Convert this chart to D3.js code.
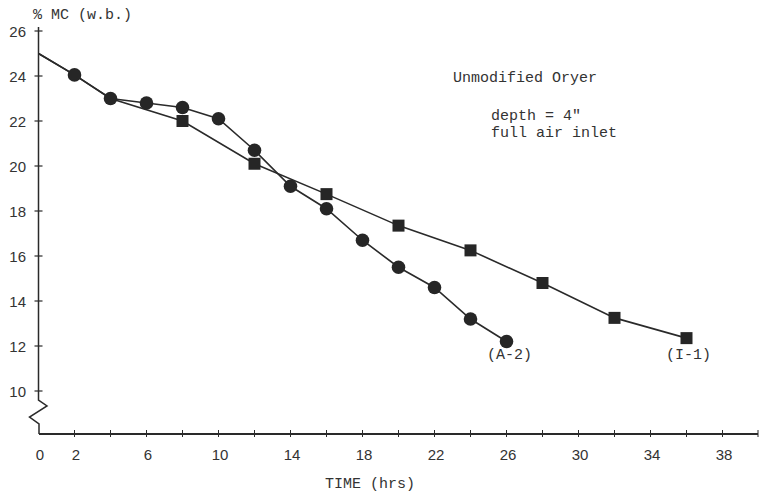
<!DOCTYPE html>
<html>
<head>
<meta charset="utf-8">
<script src="https://cdn.jsdelivr.net/npm/d3@7/dist/d3.min.js"></script>
<style>
  html, body { margin: 0; padding: 0; background: #ffffff; }
  svg { display: block; }
</style>
</head>
<body>
<div id="chart"></div>
<script>
// ---- data ----
const timeA = [0, 2, 4, 6, 8, 10, 12, 14, 16, 18, 20, 22, 24, 26];
const mcA   = [25, 24.05, 23.0, 22.8, 22.6, 22.1, 20.7, 19.1, 18.1, 16.7, 15.5, 14.6, 13.2, 12.2];
const timeI = [0, 2, 4, 8, 12, 16, 20, 24, 28, 32, 36];
const mcI   = [25, 24.05, 23.0, 22.0, 20.1, 18.75, 17.35, 16.25, 14.8, 13.25, 12.35];
const xTickLabels = [0, 2, 6, 10, 14, 18, 22, 26, 30, 34, 38];
const xMinorTicks = [2, 4, 6, 8, 10, 12, 14, 16, 18, 20, 22, 24, 26, 28, 30, 32, 34, 36, 38];
const yTickLabels = [10, 12, 14, 16, 18, 20, 22, 24, 26];
const seriesNames = ["(A-2)", "(I-1)"];
const noteLines = ["Unmodified Oryer", "depth = 4\"", "full air inlet"];

const W = 761, H = 492;
const ink = "#2a2a2a";
const mono = "'Liberation Mono', 'Courier New', monospace";
const sans = "'Liberation Sans', Arial, sans-serif";

const svg = d3.select("#chart").append("svg").attr("width", W).attr("height", H);
svg.append("rect").attr("width", W).attr("height", H).attr("fill", "#fff");

const x = d3.scaleLinear().domain([0, 38]).range([38.5, 722.5]);
const y = d3.scaleLinear().domain([10, 26]).range([391, 31]);
const axisY = 434;
const x0 = x(0);

// ---- axes ----
const ax = svg.append("g").attr("stroke", ink).attr("fill", "none").attr("stroke-width", 1.5);
// vertical axis with break
ax.append("path").attr("d", d3.line()([
  [x0, 27], [x0, 400], [x0 + 8.5, 406], [x0 - 9, 417], [x0 + 0.5, 424], [x0 + 0.5, axisY]
])).attr("stroke-linejoin", "miter");
// horizontal axis
ax.append("line").attr("x1", x0 + 0.5).attr("x2", 758).attr("y1", axisY).attr("y2", axisY).attr("stroke-width", 2);
ax.append("line").attr("x1", 758).attr("x2", 758).attr("y1", axisY - 4).attr("y2", axisY + 3).attr("stroke-width", 1);

// y ticks (crossing)
ax.selectAll(".yt").data(yTickLabels).join("line")
  .attr("x1", x0 - 4).attr("x2", x0 + 4)
  .attr("y1", d => y(d)).attr("y2", d => y(d)).attr("stroke-width", 1.2);
// x minor ticks (crossing)
ax.selectAll(".xt").data(xMinorTicks).join("line")
  .attr("x1", d => x(d)).attr("x2", d => x(d))
  .attr("y1", axisY - 4).attr("y2", axisY + 3).attr("stroke-width", 1);

// y tick labels via d3 axis (no tick lines)
const yAxis = d3.axisLeft(y).tickValues(yTickLabels).tickSize(0).tickPadding(0);
const gy = svg.append("g").attr("transform", "translate(26,0)").call(yAxis);
gy.select(".domain").remove();
gy.selectAll("text").attr("font-family", sans).attr("font-size", 15).attr("fill", "#333").attr("dy", "0.35em");

// x tick labels via d3 axis
const xAxis = d3.axisBottom(x).tickValues(xTickLabels).tickSize(0).tickPadding(0);
const gx = svg.append("g").attr("transform", "translate(1,449)").call(xAxis);
gx.select(".domain").remove();
gx.selectAll("text").attr("font-family", sans).attr("font-size", 15).attr("fill", "#333");

// axis titles
svg.append("text").attr("x", 33).attr("y", 19).attr("font-family", mono).attr("font-size", 15)
  .attr("fill", "#333").text("% MC (w.b.)");
svg.append("text").attr("x", 370).attr("y", 488).attr("text-anchor", "middle")
  .attr("font-family", mono).attr("font-size", 15).attr("fill", "#333").text("TIME (hrs)");

// ---- lines ----
const line = d3.line().x(d => x(d[0])).y(d => y(d[1]));
const dataA = timeA.map((t, i) => [t, mcA[i]]);
const dataI = timeI.map((t, i) => [t, mcI[i]]);

svg.append("path").datum(dataI).attr("d", line).attr("fill", "none").attr("stroke", ink).attr("stroke-width", 1.6);
svg.append("path").datum(dataA).attr("d", line).attr("fill", "none").attr("stroke", ink).attr("stroke-width", 1.6);

// squares (I-1), from t >= 8
const sq = 12;
svg.selectAll(".sq").data(dataI.filter(d => d[0] >= 8)).join("rect")
  .attr("x", d => x(d[0]) - sq / 2).attr("y", d => y(d[1]) - sq / 2)
  .attr("width", sq).attr("height", sq).attr("fill", "#262626");

// circles (A-2), from t >= 2
svg.selectAll(".ci").data(dataA.filter(d => d[0] >= 2)).join("circle")
  .attr("cx", d => x(d[0])).attr("cy", d => y(d[1])).attr("r", 6.8).attr("fill", "#262626");

// series labels
svg.append("text").attr("x", x(timeA[timeA.length - 1]) + 3).attr("y", 359).attr("text-anchor", "middle")
  .attr("font-family", mono).attr("font-size", 15).attr("fill", "#333").text(seriesNames[0]);
svg.append("text").attr("x", x(timeI[timeI.length - 1]) + 2).attr("y", 359).attr("text-anchor", "middle")
  .attr("font-family", mono).attr("font-size", 15).attr("fill", "#333").text(seriesNames[1]);

// annotation
svg.append("text").attr("x", 453).attr("y", 82).attr("font-family", mono).attr("font-size", 15)
  .attr("fill", "#333").text(noteLines[0]);
svg.append("text").attr("x", 491).attr("y", 120).attr("font-family", mono).attr("font-size", 15)
  .attr("fill", "#333").text(noteLines[1]);
svg.append("text").attr("x", 491).attr("y", 137).attr("font-family", mono).attr("font-size", 15)
  .attr("fill", "#333").text(noteLines[2]);
</script>
</body>
</html>
